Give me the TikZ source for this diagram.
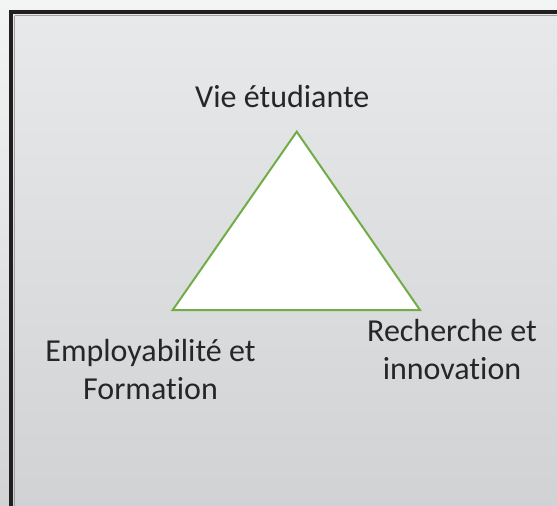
\documentclass[tikz,border=0pt]{standalone}
\usepackage{fontspec}
\setmainfont{Carlito}[Ligatures=NoCommon]
\definecolor{bgtop}{HTML}{F3F4F4}
\definecolor{bgbot}{HTML}{D2D3D5}
\definecolor{intop}{HTML}{E8E9EB}
\definecolor{inbot}{HTML}{D0D1D3}
\definecolor{frame}{HTML}{231F20}
\definecolor{inline}{HTML}{A0A0A2}
\definecolor{tri}{HTML}{70AD47}
\definecolor{txt}{HTML}{262626}
\tikzset{
  lbl/.style={font=\fontsize{32}{38}\selectfont, text=txt, align=center, inner sep=0pt, anchor=base},
  triline/.style={draw=tri, line width=2pt, fill=white, line join=miter}
}
\begin{document}
\begin{tikzpicture}[x=1pt,y=-1pt]
\useasboundingbox (0,0) rectangle (557,506);
\clip (0,0) rectangle (557,506);
\shade[top color=bgtop, bottom color=bgbot] (0,0) rectangle (557,506);
\shade[top color=intop, bottom color=inbot] (13,14) rectangle (580,530);
\draw[inline, line width=1.5pt] (14.5,15.5) -- (14.5,530);
\draw[inline, line width=1.5pt] (14.5,15.5) -- (580,15.5);
\draw[frame, line width=4.2pt] (11.2,520) -- (11.2,12.3) -- (580,12.3);
\coordinate (A) at (296.7,131.7);
\coordinate (B) at (172.7,310);
\coordinate (C) at (420,310);
\draw[triline] (A) -- (B) -- (C) -- cycle;
\node[lbl] (vie) at (282.3,107.3) {Vie étudiante};
\node[lbl] (emp) at (150.5,399.3) {Employabilité et\\Formation};
\node[lbl] (rec) at (452,379) {Recherche et\\innovation};
\end{tikzpicture}
\end{document}
